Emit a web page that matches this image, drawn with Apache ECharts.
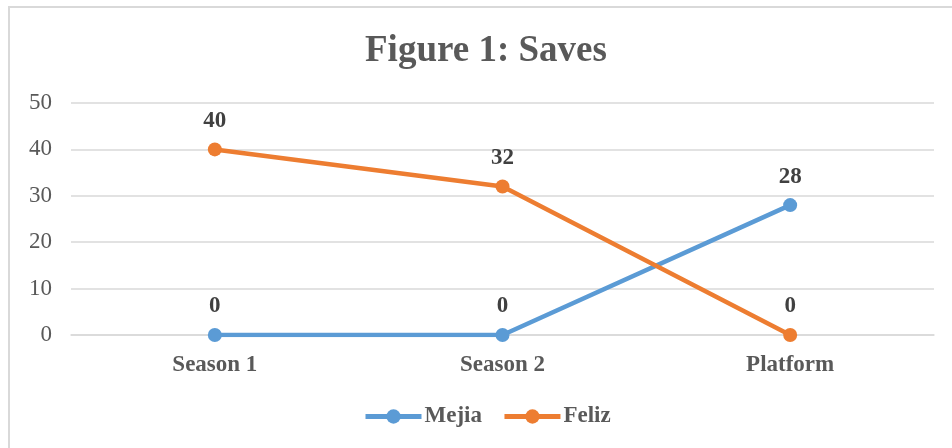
<!DOCTYPE html>
<html><head><meta charset="utf-8">
<script src="https://cdn.jsdelivr.net/npm/echarts@6/dist/echarts.min.js"></script>
<style>html,body{margin:0;padding:0;background:#fff}#c{width:952px;height:448px}</style>
</head><body><div id="c"></div>
<script>
const categories = ['Season 1', 'Season 2', 'Platform'];
const mejia = [0, 0, 28];
const feliz = [40, 32, 0];
const yTicks = {min: 0, max: 50, interval: 10};

const F = '"Liberation Serif","Times New Roman",serif';
const chart = echarts.init(document.getElementById('c'), null, {renderer: 'canvas'});
const lbl = {show: true, position: 'top', distance: 10, fontFamily: F, fontWeight: 'bold', fontSize: 23, color: '#404040'};
chart.setOption({
  animation: false,
  graphic: [{type: 'rect', shape: {x: 9, y: 7, width: 960, height: 460}, style: {fill: 'none', stroke: '#d9d9d9', lineWidth: 2}, silent: true}],
  title: {text: 'Figure 1: Saves', left: 360, top: 28, textStyle: {fontFamily: F, fontWeight: 'bold', fontSize: 37, color: '#595959'}},
  legend: {top: 400, left: 358, itemWidth: 56, itemHeight: 18, itemGap: 20,
    textStyle: {fontFamily: F, fontWeight: 'bold', fontSize: 23, color: '#595959', padding: [0, 0, 0, -2]},
    data: [
      {name: 'Mejia', lineStyle: {width: 5, color: '#5B9BD5'}, itemStyle: {color: '#5B9BD5'}},
      {name: 'Feliz', lineStyle: {width: 5, color: '#ED7D31'}, itemStyle: {color: '#ED7D31'}}
    ]},
  grid: {left: 71, right: 18, top: 103, bottom: 113},
  xAxis: {type: 'category', data: categories, boundaryGap: true,
    axisLine: {show: true, lineStyle: {color: '#d9d9d9', width: 1.5}}, axisTick: {show: false},
    axisLabel: {fontFamily: F, fontWeight: 'bold', fontSize: 23, color: '#595959', margin: 19}},
  yAxis: {type: 'value', min: yTicks.min, max: yTicks.max, interval: yTicks.interval,
    axisLine: {show: false}, axisTick: {show: false},
    splitLine: {lineStyle: {color: '#d9d9d9', width: 1.5}},
    axisLabel: {fontFamily: F, fontSize: 23, color: '#595959', margin: 19}},
  series: [
    {name: 'Mejia', type: 'line', data: mejia, symbol: 'circle', symbolSize: 14,
      lineStyle: {color: '#5B9BD5', width: 4.5}, itemStyle: {color: '#5B9BD5'}, label: lbl},
    {name: 'Feliz', type: 'line', data: feliz, symbol: 'circle', symbolSize: 14,
      lineStyle: {color: '#ED7D31', width: 4.5}, itemStyle: {color: '#ED7D31'}, label: lbl}
  ]
});
</script></body></html>
